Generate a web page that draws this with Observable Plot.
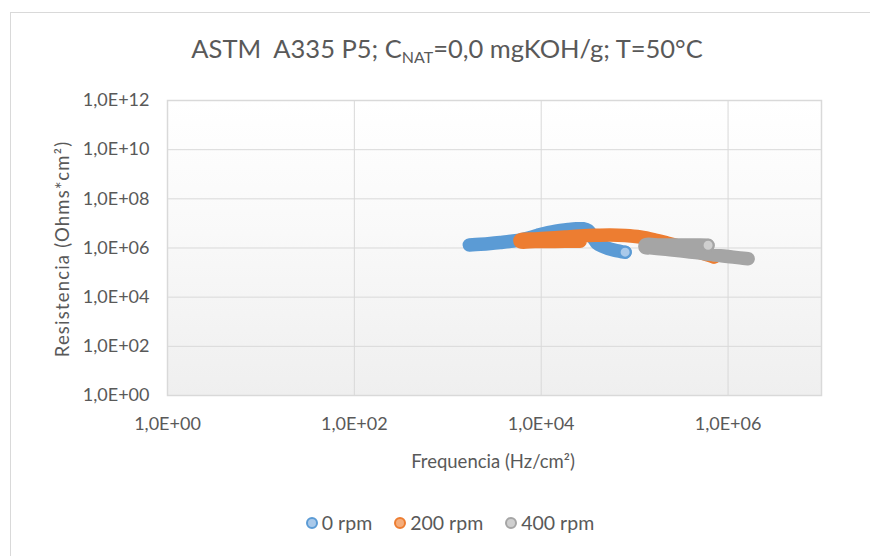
<!DOCTYPE html>
<html>
<head>
<meta charset="utf-8">
<script src="https://cdn.jsdelivr.net/npm/d3@7"></script>
<script src="https://cdn.jsdelivr.net/npm/@observablehq/plot@0.6"></script>
<style>
  body { margin: 0; background: #fff; font-family: Lato, "Open Sans", sans-serif; }
  #wrap { position: relative; width: 870px; height: 556px; overflow: hidden; }
  #border { position: absolute; left: 10px; top: 12px; width: 900px; height: 600px; border: 1px solid #d9d9d9; }
  #bg { position: absolute; left: 167px; top: 100px; width: 654px; height: 295px;
        background: linear-gradient(to bottom, #ffffff 0%, #f9f9f9 45%, #efefef 100%); }
  #chart { position: absolute; left: 0; top: 0; }
  #title { position: absolute; left: 0; width: 894px; top: 33px; text-align: center;
           font-size: 25.5px; color: #595959; white-space: nowrap; }
  #title sub { font-size: 16px; vertical-align: -5px; line-height: 0; }
  #xlabel { position: absolute; left: 0; width: 986px; top: 450px; text-align: center;
            font-size: 18.5px; color: #595959; }
  #ylabel { position: absolute; left: 62px; top: 249px; transform: translate(-50%, -50%) rotate(-90deg);
            font-size: 18.5px; letter-spacing: 1.2px; color: #595959; white-space: nowrap; }
  #legend { position: absolute; left: 0; width: 900px; top: 511px; display: flex; justify-content: center;
            font-size: 19.5px; color: #595959; }
  .item { display: flex; align-items: center; margin: 0 11px; }
  .mk { width: 8px; height: 8px; border-radius: 50%; border-width: 2px; border-style: solid; margin-right: 4px; }
</style>
</head>
<body>
<div id="wrap">
  <div id="border"></div>
  <div id="bg"></div>
  <div id="chart"></div>
  <div id="title">ASTM&nbsp; A335 P5; C<sub>NAT</sub>=0,0 mgKOH/g; T=50°C</div>
  <div id="xlabel">Frequencia (Hz/cm²)</div>
  <div id="ylabel">Resistencia (Ohms*cm²)</div>
  <div id="legend"></div>
</div>
<script>
// ---- data ----
const seriesNames = ["0 rpm", "200 rpm", "400 rpm"];
const seriesColors = ["#5b9bd5", "#ed7d31", "#a5a5a5"];
const seriesLight = ["#a9c9ea", "#f5ad7b", "#cfcfcf"];

// 0 rpm
const freq0 = [1.70e3, 2.23e3, 2.85e3, 3.64e3, 5.02e3, 6.26e3, 7.63e3, 9.06e3, 1.08e4, 1.31e4, 1.60e4, 1.95e4,
               2.37e4, 2.81e4, 3.18e4, 3.43e4, 3.69e4, 3.97e4, 4.49e4, 5.21e4, 6.04e4, 7.00e4, 7.91e4];
const res0  = [1.33e6, 1.42e6, 1.53e6, 1.68e6, 1.93e6, 2.22e6, 2.68e6, 3.23e6, 3.90e6, 4.57e6, 5.16e6, 5.67e6,
               6.05e6, 6.05e6, 5.16e6, 3.55e6, 2.22e6, 1.53e6, 1.18e6, 9.56e5, 8.23e5, 7.35e5, 6.76e5];
// 200 rpm
const freq200 = [2.61e4, 1.81e4, 1.25e4, 8.63e3, 5.96e3, 5.96e3, 8.63e3, 1.25e4, 1.81e4, 2.61e4, 3.78e4,
                 5.47e4, 7.91e4, 1.15e5, 1.66e5, 2.23e5, 3.07e5, 3.92e5, 5.02e5, 6.11e5, 7.09e5];
const res200  = [1.88e6, 1.88e6, 1.84e6, 1.84e6, 1.81e6, 2.12e6, 2.33e6, 2.56e6, 2.81e6, 3.08e6, 3.29e6,
                 3.39e6, 3.23e6, 2.81e6, 2.12e6, 1.60e6, 1.15e6, 8.71e5, 6.57e5, 5.20e5, 4.31e5];
// 400 rpm
const freq400 = [1.64e6, 1.34e6, 1.05e6, 8.21e5, 6.42e5, 5.02e5, 3.92e5, 3.07e5, 2.40e5, 1.87e5, 1.47e5, 1.30e5,
                 1.30e5, 1.87e5, 2.71e5, 3.92e5, 5.02e5, 6.11e5];
const res400  = [3.64e5, 3.96e5, 4.39e5, 4.91e5, 5.50e5, 6.16e5, 6.89e5, 7.71e5, 8.55e5, 9.38e5, 1.01e6, 1.05e6,
                 1.33e6, 1.33e6, 1.33e6, 1.33e6, 1.32e6, 1.29e6];

const xTicks = [1, 1e2, 1e4, 1e6];
const xTickLabels = ["1,0E+00", "1,0E+02", "1,0E+04", "1,0E+06"];
const yTicks = [1, 1e2, 1e4, 1e6, 1e8, 1e10, 1e12];
const yTickLabels = ["1,0E+00", "1,0E+02", "1,0E+04", "1,0E+06", "1,0E+08", "1,0E+10", "1,0E+12"];

// ---- build ----
const freqs = [freq0, freq200, freq400];
const ress = [res0, res200, res400];
const series = seriesNames.map((name, k) => ({
  name, color: seriesColors[k], light: seriesLight[k],
  data: freqs[k].map((f, i) => ({ f, r: ress[k][i] }))
}));
const xLab = new Map(xTicks.map((t, i) => [t, xTickLabels[i]]));
const yLab = new Map(yTicks.map((t, i) => [t, yTickLabels[i]]));

const marks = [
  Plot.gridX(xTicks, { stroke: "#d9d9d9", strokeOpacity: 1 }),
  Plot.gridY(yTicks, { stroke: "#d9d9d9", strokeOpacity: 1 }),
  Plot.frame({ stroke: "#d9d9d9", strokeWidth: 1.5 }),
  Plot.axisX(xTicks, { tickFormat: d => xLab.get(d), tickSize: 0, tickPadding: 22, fontSize: 18 }),
  Plot.axisY(yTicks, { tickFormat: d => yLab.get(d), tickSize: 0, tickPadding: 18, fontSize: 18 })
];
for (const s of series) {
  marks.push(Plot.line(s.data, { x: "f", y: "r", stroke: s.color, strokeWidth: 13.5,
    strokeLinecap: "round", strokeLinejoin: "round", curve: "catmull-rom" }));
  marks.push(Plot.dot(s.data.slice(-1), { x: "f", y: "r", r: 5.5, fill: s.light, stroke: s.color, strokeWidth: 2 }));
}

const chart = Plot.plot({
  width: 870, height: 556,
  marginLeft: 167, marginRight: 49, marginTop: 100, marginBottom: 161,
  style: { background: "transparent", fontFamily: "Lato, 'Open Sans', sans-serif", fontSize: "18px", color: "#595959", overflow: "visible" },
  x: { type: "log", domain: [1, 1e7], label: null },
  y: { type: "log", domain: [1, 1e12], label: null },
  marks
});
document.getElementById("chart").appendChild(chart);

// legend
const leg = document.getElementById("legend");
for (const s of series) {
  const it = document.createElement("div");
  it.className = "item";
  const mk = document.createElement("span");
  mk.className = "mk";
  mk.style.background = s.light;
  mk.style.borderColor = s.color;
  it.appendChild(mk);
  it.appendChild(document.createTextNode(s.name));
  leg.appendChild(it);
}
</script>
</body>
</html>
